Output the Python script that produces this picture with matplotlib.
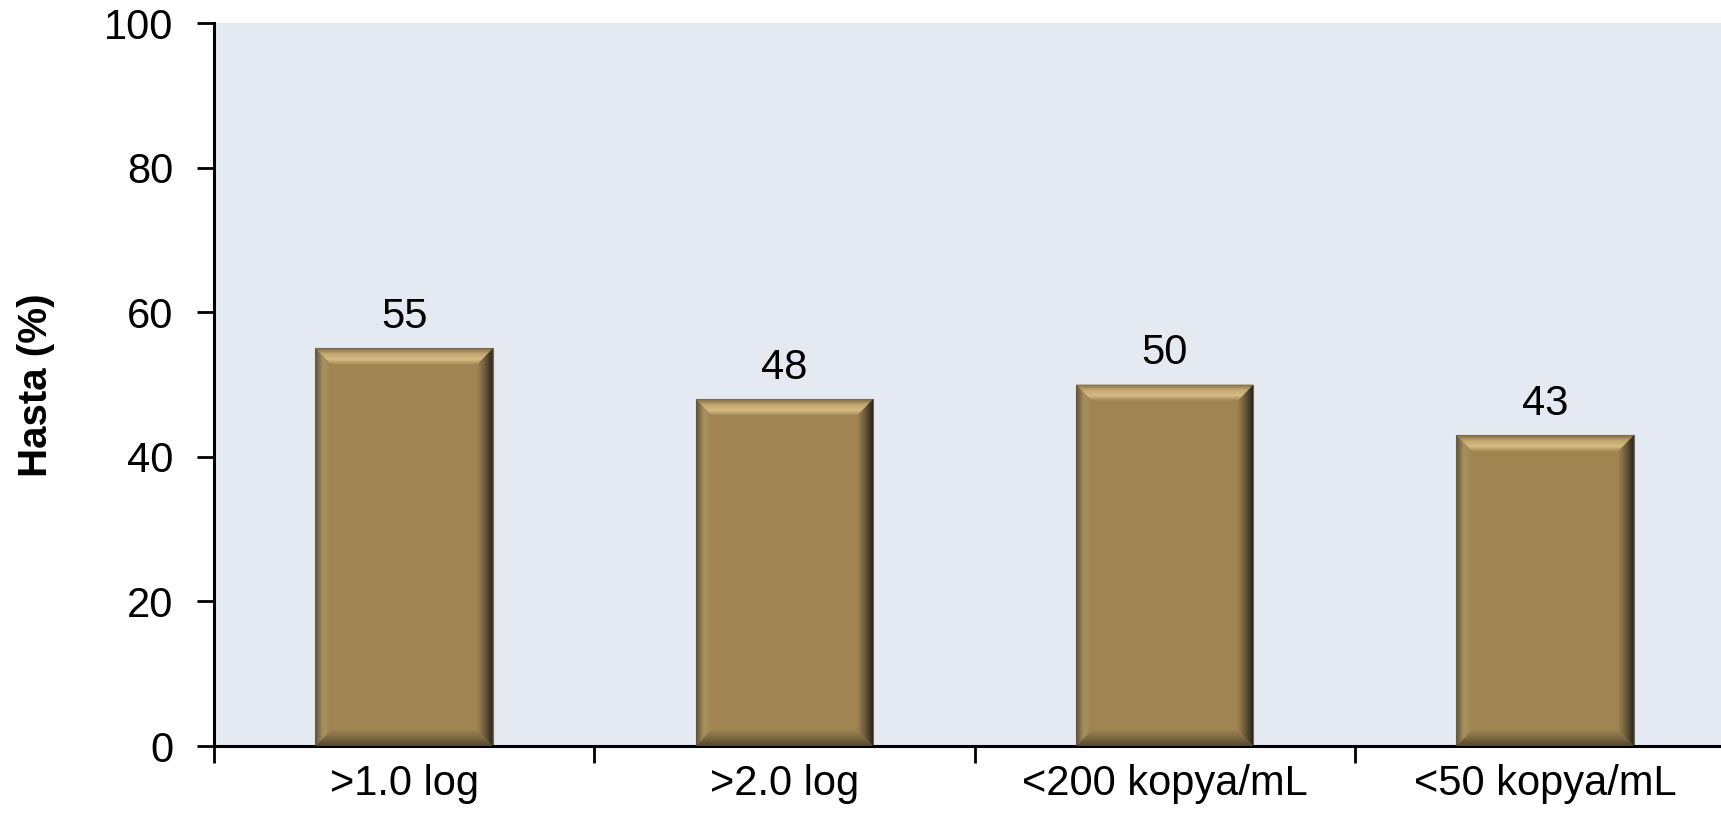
import numpy as np
import matplotlib.pyplot as plt
from matplotlib.patches import Polygon
from matplotlib.colors import LinearSegmentedColormap

# percentage of patients per response category
categories = ['>1.0 log', '>2.0 log', '<200 kopya/mL', '<50 kopya/mL']
values = [55, 48, 50, 43]

plt.rcParams['font.family'] = ['Liberation Sans', 'DejaVu Sans']

fig = plt.figure(figsize=(17.21, 8.13), dpi=100)
ax = fig.add_axes([0.1243, 0.0824, 0.884, 0.889])
ax.set_facecolor('#e5e9f2')

x = np.arange(len(values))
w = 0.466
ax.bar(x, values, width=w, color='#a08552', edgecolor='#6d665a', linewidth=0.8, zorder=2)

# bevel strips around each bar
bx, by = 0.042, 2.3
def shade(poly, extent, colors, horizontal):
    cmap = LinearSegmentedColormap.from_list('bevel', colors)
    grad = np.linspace(0, 1, 64)
    img = grad[None, :] if horizontal else grad[:, None]
    im = ax.imshow(img, cmap=cmap, extent=extent, aspect='auto', origin='lower',
                   zorder=3, interpolation='bilinear')
    p = Polygon(poly, closed=True, facecolor='none', edgecolor='none', transform=ax.transData)
    ax.add_patch(p)
    im.set_clip_path(p)

for xc, h in zip(x, values):
    x0, x1 = xc - w / 2, xc + w / 2
    shade([(x0, h), (x1, h), (x1 - bx, h - by), (x0 + bx, h - by)],
          [x0, x1, h - by, h], ['#a08552', '#d6bd86', '#c2a66e', '#7d6b45'], False)
    shade([(x0, 0), (x1, 0), (x1 - bx, by), (x0 + bx, by)],
          [x0, x1, 0, by], ['#54472f', '#7e6a44', '#a08552'], False)
    shade([(x0, 0), (x0 + bx, by), (x0 + bx, h - by), (x0, h)],
          [x0, x0 + bx, 0, h], ['#5e5238', '#a89060', '#a08552'], True)
    shade([(x1, 0), (x1 - bx, by), (x1 - bx, h - by), (x1, h)],
          [x1 - bx, x1, 0, h], ['#a08552', '#6b5b3b', '#2a241a'], True)
    ax.text(xc, h + 1.6, str(h), ha='center', va='bottom', fontsize=30, zorder=4)

ax.set_xlim(-0.5, 3.5)
ax.set_ylim(0, 100)
ax.set_yticks(range(0, 101, 20))
ax.set_xticks(x)
ax.set_xticklabels(categories)
ax.set_xticks([-0.5, 0.5, 1.5, 2.5, 3.5], minor=True)
ax.tick_params(axis='y', labelsize=30, length=12, width=2, pad=17)
ax.tick_params(axis='x', which='major', labelsize=30, length=0, pad=13)
ax.tick_params(axis='x', which='minor', length=12, width=2)

for s in ['top', 'right']:
    ax.spines[s].set_visible(False)
for s in ['left', 'bottom']:
    ax.spines[s].set_linewidth(2.2)

fig.text(36 / 1721, 0.5267, 'Hasta (%)', rotation=90, ha='center', va='center',
         fontsize=29, fontweight='bold')

fig.savefig('out.png', dpi=100)
